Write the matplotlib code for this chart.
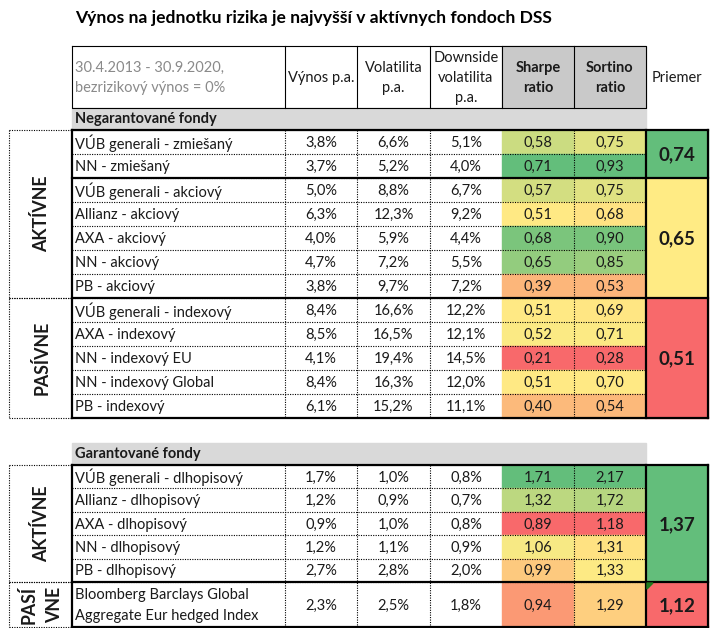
import matplotlib.pyplot as plt
from matplotlib.patches import Rectangle, Polygon
import numpy as np

plt.rcParams['font.family'] = ['Lato', 'DejaVu Sans']

# --- data -------------------------------------------------------------
title = 'Výnos na jednotku rizika je najvyšší v aktívnych fondoch DSS'
period_note = '30.4.2013 - 30.9.2020,\nbezrizikový výnos = 0%'
col_headers = ['Výnos p.a.', 'Volatilita\np.a.', 'Downside\nvolatilita\np.a.',
               'Sharpe\nratio', 'Sortino\nratio', 'Priemer']

neg_title = 'Negarantované fondy'
neg_names = ['VÚB generali - zmiešaný', 'NN - zmiešaný', 'VÚB generali - akciový',
             'Allianz - akciový', 'AXA - akciový', 'NN - akciový', 'PB - akciový',
             'VÚB generali - indexový', 'AXA - indexový', 'NN - indexový EU',
             'NN - indexový Global', 'PB - indexový']
neg_ret = [3.8, 3.7, 5.0, 6.3, 4.0, 4.7, 3.8, 8.4, 8.5, 4.1, 8.4, 6.1]
neg_vol = [6.6, 5.2, 8.8, 12.3, 5.9, 7.2, 9.7, 16.6, 16.5, 19.4, 16.3, 15.2]
neg_down = [5.1, 4.0, 6.7, 9.2, 4.4, 5.5, 7.2, 12.2, 12.1, 14.5, 12.0, 11.1]
neg_sharpe = [0.58, 0.71, 0.57, 0.51, 0.68, 0.65, 0.39, 0.51, 0.52, 0.21, 0.51, 0.40]
neg_sortino = [0.75, 0.93, 0.75, 0.68, 0.90, 0.85, 0.53, 0.69, 0.71, 0.28, 0.70, 0.54]
neg_avg_rows = [(0, 2), (2, 7), (7, 12)]
neg_avg = [0.74, 0.65, 0.51]
neg_side = [('AKTÍVNE', 0, 7), ('PASÍVNE', 7, 12)]

gar_title = 'Garantované fondy'
gar_names = ['VÚB generali - dlhopisový', 'Allianz - dlhopisový', 'AXA - dlhopisový',
             'NN - dlhopisový', 'PB - dlhopisový',
             'Bloomberg Barclays Global\nAggregate Eur hedged Index']
gar_ret = [1.7, 1.2, 0.9, 1.2, 2.7, 2.3]
gar_vol = [1.0, 0.9, 1.0, 1.1, 2.8, 2.5]
gar_down = [0.8, 0.7, 0.8, 0.9, 2.0, 1.8]
gar_sharpe = [1.71, 1.32, 0.89, 1.06, 0.99, 0.94]
gar_sortino = [2.17, 1.72, 1.18, 1.31, 1.33, 1.29]
gar_avg_rows = [(0, 5), (5, 6)]
gar_avg = [1.37, 1.12]
gar_side = [('AKTÍVNE', 0, 5), ('PASÍ\nVNE', 5, 6)]

# --- layout (pixels) --------------------------------------------------
col_x = [72, 285, 357, 430, 502, 574, 646, 708]
side_x = 9
neg_top = 130
neg_h = [24] * 12
gar_top = 465
gar_h = [23.4] * 5 + [45]

RED, YEL, GRN = np.array([248, 105, 107]), np.array([255, 235, 132]), np.array([99, 190, 123])
TXT = '#1a1a1a'
FS = 10.5
THICK, THIN = 1.6, 0.8
DOT = (0, (1, 1.2))


def scale_colors(vals):
    # excel style 3-colour scale: min red, median yellow, max green
    v = np.asarray(vals, float)
    lo, mid, hi = v.min(), np.median(v), v.max()
    out = []
    for x in v:
        if x <= mid:
            t = 0 if mid == lo else (x - lo) / (mid - lo)
            c = RED + (YEL - RED) * t
        else:
            t = (x - mid) / (hi - mid)
            c = YEL + (GRN - YEL) * t
        out.append(c / 255)
    return out


def fmt(v, dec):
    return f'{v:.{dec}f}'.replace('.', ',')


fig = plt.figure(figsize=(7.1, 6.28), dpi=100)
ax = fig.add_axes([0, 0, 1, 1])
ax.set_xlim(0, 710)
ax.set_ylim(628, 0)
ax.axis('off')

ax.text(75, 18, title, fontsize=12.6, fontweight='bold', color='black', va='center')

# header
hy0, hy1 = 46, 108
for j in (4, 5):
    ax.add_patch(Rectangle((col_x[j], hy0), col_x[j + 1] - col_x[j], hy1 - hy0,
                           color='#c9c9c9', zorder=1))
ax.plot([col_x[0], col_x[6], col_x[6], col_x[0], col_x[0]], [hy0, hy0, hy1, hy1, hy0],
        color='black', lw=THIN, zorder=3)
for x in col_x[1:6]:
    ax.plot([x, x], [hy0, hy1], color='black', lw=THIN, zorder=3)
ax.text(75, (hy0 + hy1) / 2 + 1, period_note, fontsize=FS, color='#8a8a8a', va='center',
        linespacing=1.6)
for j, h in enumerate(col_headers):
    cx = (col_x[j + 1] + col_x[j + 2]) / 2
    ax.text(cx, (hy0 + hy1) / 2 + 1, h, fontsize=FS, color=TXT, ha='center', va='center',
            fontweight='bold' if j in (3, 4) else 'normal', linespacing=1.55,
            multialignment='center')


def draw_section(top, heights, sec_title, names, ret, vol, down, sharpe, sortino,
                 avg_rows, avg, side):
    ys = np.concatenate([[top], top + np.cumsum(heights)])
    # section title bar
    ax.add_patch(Rectangle((col_x[0], top - 22), col_x[6] - col_x[0], 22,
                           color='#d9d9d9', zorder=1))
    ax.text(75, top - 11, sec_title, fontsize=FS, fontweight='bold', color=TXT,
            va='center')
    # coloured ratio cells
    for j, vals in ((4, sharpe), (5, sortino)):
        for i, c in enumerate(scale_colors(vals)):
            ax.add_patch(Rectangle((col_x[j], ys[i]), col_x[j + 1] - col_x[j],
                                   ys[i + 1] - ys[i], color=c, zorder=1))
    avg_cols = scale_colors(avg)
    for (a, b), v, c in zip(avg_rows, avg, avg_cols):
        ax.add_patch(Rectangle((col_x[6], ys[a]), col_x[7] - col_x[6], ys[b] - ys[a],
                               color=c, zorder=1))
        ax.text((col_x[6] + col_x[7]) / 2, (ys[a] + ys[b]) / 2 + 1, fmt(v, 2),
                fontsize=FS + 3, fontweight='bold', color=TXT, ha='center',
                va='center')
    # cell texts
    for i, n in enumerate(names):
        yc = (ys[i] + ys[i + 1]) / 2 + 1
        ax.text(75, yc, n, fontsize=FS, color=TXT, va='center', linespacing=1.6)
        for j, (vals, dec, suf) in enumerate(((ret, 1, '%'), (vol, 1, '%'), (down, 1, '%'),
                                               (sharpe, 2, ''), (sortino, 2, ''))):
            cx = (col_x[j + 1] + col_x[j + 2]) / 2
            ax.text(cx, yc, fmt(vals[i], dec) + suf, fontsize=FS, color=TXT,
                    ha='center', va='center')
    # dotted inner grid
    for y in ys[1:-1]:
        ax.plot([col_x[0], col_x[6]], [y, y], color='black', lw=THIN, ls=DOT, zorder=2)
    for x in (col_x[1], col_x[2], col_x[3], col_x[5]):
        ax.plot([x, x], [ys[0], ys[-1]], color='black', lw=THIN, ls=DOT, zorder=2)
    # side labels
    ax.plot([side_x, side_x], [ys[0], ys[-1]], color='black', lw=THIN, ls=DOT, zorder=2)
    for lab, a, b in side:
        for y in (ys[a], ys[b]):
            ax.plot([side_x, col_x[0]], [y, y], color='black', lw=THIN, ls=DOT, zorder=2)
        ax.text((side_x + col_x[0]) / 2 + 1, (ys[a] + ys[b]) / 2, lab, fontsize=12.8,
                fontweight='bold', color=TXT, rotation=90, ha='center', va='center',
                multialignment='center', linespacing=1.6)
    # thick group borders
    bounds = sorted({ys[a] for a, b in avg_rows} | {ys[b] for a, b in avg_rows})
    for y in bounds:
        ax.plot([col_x[0], col_x[7]], [y, y], color='black', lw=THICK, zorder=4,
                solid_capstyle='projecting')
    for x in (col_x[0], col_x[6], col_x[7]):
        ax.plot([x, x], [ys[0], ys[-1]], color='black', lw=THICK, zorder=4,
                solid_capstyle='projecting')
    return ys


draw_section(neg_top, neg_h, neg_title, neg_names, neg_ret, neg_vol, neg_down,
             neg_sharpe, neg_sortino, neg_avg_rows, neg_avg, neg_side)
gys = draw_section(gar_top, gar_h, gar_title, gar_names, gar_ret, gar_vol, gar_down,
                   gar_sharpe, gar_sortino, gar_avg_rows, gar_avg, gar_side)

# small green comment marker in the last average cell
x0, y0 = col_x[6] + 1, gys[5] + 1
ax.add_patch(Polygon([[x0, y0], [x0 + 6, y0], [x0, y0 + 6]], color='#1e7b1e', zorder=5))

fig.savefig('out.png', dpi=100)
